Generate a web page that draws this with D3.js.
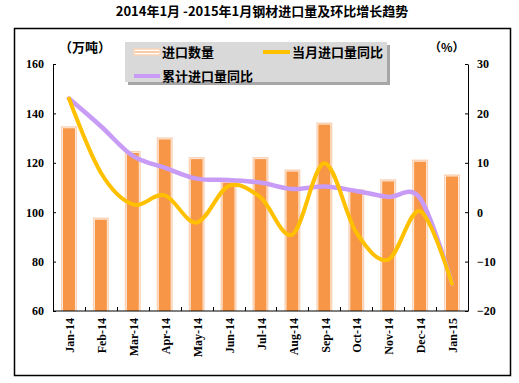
<!DOCTYPE html>
<html>
<head>
<meta charset="utf-8">
<script src="https://cdn.jsdelivr.net/npm/d3@7"></script>
<style>
  body { margin: 0; background: #fff; }
  svg { display: block; }
</style>
</head>
<body>
<script>
// 2014.1 - 2015.1 steel imports
var months = ["Jan-14", "Feb-14", "Mar-14", "Apr-14", "May-14", "Jun-14", "Jul-14",
              "Aug-14", "Sep-14", "Oct-14", "Nov-14", "Dec-14", "Jan-15"];
var importVol = [134, 97, 124, 129.5, 121.5, 112, 121.5, 116.5, 135.5, 108.5, 112.5, 120.5, 114.5];
var monthYoy = [23, 8, 1.6, 3.4, -2.1, 5.3, 3, -4.5, 9.9, -4.1, -9.6, 0.2, -14.5];
var cumYoy = [23, 17.4, 11.4, 9, 6.8, 6.5, 6, 4.7, 5.2, 4.3, 3.1, 2.8, -14.5];
var leftTicks = [60, 80, 100, 120, 140, 160];
var rightTicks = [-20, -10, 0, 10, 20, 30];

var width = 519, height = 383;
var cjk = "'Noto Sans CJK SC', sans-serif";
var serif = "'Liberation Serif', 'DejaVu Serif', serif";

var svg = d3.select("body").append("svg")
    .attr("width", width)
    .attr("height", height);

// title
svg.append("text")
    .attr("x", 262).attr("y", 16)
    .attr("text-anchor", "middle")
    .attr("font-family", cjk).attr("font-weight", "bold").attr("font-size", 13)
    .text("2014年1月 -2015年1月钢材进口量及环比增长趋势");

// frame
svg.append("rect")
    .attr("x", 14.5).attr("y", 28.5).attr("width", 496).attr("height", 347)
    .attr("fill", "none").attr("stroke", "#000").attr("stroke-width", 1.5);

var x = d3.scaleBand().domain(months).range([53, 468]);
var yL = d3.scaleLinear().domain([60, 160]).range([311, 64]);
var yR = d3.scaleLinear().domain([-20, 30]).range([311, 64]);

// bars
var bars = svg.append("g").selectAll("g").data(months).enter().append("g");
bars.append("rect")
    .attr("x", function (d) { return x(d) + x.bandwidth() / 2 - 8; })
    .attr("y", function (d, i) { return yL(importVol[i]) - 2; })
    .attr("width", 16)
    .attr("height", function (d, i) { return 311 - yL(importVol[i]) + 2; })
    .attr("fill", "#fad3b6");
bars.append("rect")
    .attr("x", function (d) { return x(d) + x.bandwidth() / 2 - 6.5; })
    .attr("y", function (d, i) { return yL(importVol[i]) - 0.5; })
    .attr("width", 13)
    .attr("height", function (d, i) { return 311 - yL(importVol[i]) + 0.5; })
    .attr("fill", "#fff");
bars.append("rect")
    .attr("x", function (d) { return x(d) + x.bandwidth() / 2 - 6; })
    .attr("y", function (d, i) { return yL(importVol[i]); })
    .attr("width", 12)
    .attr("height", function (d, i) { return 311 - yL(importVol[i]); })
    .attr("fill", "#f79646");

// lines
var line = d3.line()
    .x(function (d, i) { return x(months[i]) + x.bandwidth() / 2; })
    .y(function (d) { return yR(d); })
    .curve(d3.curveCardinal.tension(0));

svg.append("path").datum(cumYoy)
    .attr("d", line)
    .attr("fill", "none").attr("stroke", "#c79bf6").attr("stroke-width", 4.5)
    .attr("stroke-linecap", "round");
svg.append("path").datum(monthYoy)
    .attr("d", line)
    .attr("fill", "none").attr("stroke", "#ffc000").attr("stroke-width", 4)
    .attr("stroke-linecap", "round");

// axes
var gL = svg.append("g").attr("transform", "translate(53,0)")
    .call(d3.axisLeft(yL).tickValues(leftTicks).tickSizeInner(-3).tickSizeOuter(0).tickPadding(9));
var gR = svg.append("g").attr("transform", "translate(468,0)")
    .call(d3.axisRight(yR).tickValues(rightTicks).tickSizeInner(-3).tickSizeOuter(0).tickPadding(9));
[gL, gR].forEach(function (g) {
    g.selectAll("text")
        .attr("font-family", serif).attr("font-weight", "bold").attr("font-size", 12)
        .attr("fill", "#000");
    g.select(".domain").attr("stroke", "#000");
});

var gX = svg.append("g").attr("transform", "translate(0,311)");
gX.append("line").attr("x1", 53).attr("x2", 468).attr("stroke", "#000");
gX.selectAll(".tk").data(months.slice(1)).enter().append("line")
    .attr("x1", function (d) { return Math.round(x(d)) + 0.5; })
    .attr("x2", function (d) { return Math.round(x(d)) + 0.5; })
    .attr("y1", -4).attr("y2", 0)
    .attr("stroke", "#000");
gX.selectAll(".lb").data(months).enter().append("text")
    .attr("transform", function (d) {
        return "translate(" + (x(d) + x.bandwidth() / 2 + 1) + ",7)rotate(-90)";
    })
    .attr("text-anchor", "end")
    .attr("dy", "0.35em")
    .attr("font-family", serif).attr("font-weight", "bold").attr("font-size", 12)
    .text(function (d) { return d; });

// unit labels
svg.append("text").attr("x", 59).attr("y", 52)
    .attr("font-family", cjk).attr("font-weight", "bold").attr("font-size", 13)
    .text("（万吨）");
svg.append("text").attr("x", 429).attr("y", 52)
    .attr("font-family", cjk).attr("font-weight", "bold").attr("font-size", 12)
    .text("（%）");

// legend
var lg = svg.append("g");
lg.append("rect").attr("x", 128).attr("y", 45).attr("width", 262).attr("height", 40)
    .attr("fill", "#a6a6a6");
lg.append("rect").attr("x", 125).attr("y", 42).attr("width", 262).attr("height", 40)
    .attr("fill", "#d9d9d9");

lg.append("rect").attr("x", 134).attr("y", 49).attr("width", 26).attr("height", 6)
    .attr("fill", "#fff").attr("stroke", "#fad3b6").attr("stroke-width", 1.5);
lg.append("line").attr("x1", 135).attr("x2", 159).attr("y1", 52).attr("y2", 52)
    .attr("stroke", "#f79646").attr("stroke-width", 1);
lg.append("line").attr("x1", 263).attr("x2", 290).attr("y1", 52).attr("y2", 52)
    .attr("stroke", "#ffc000").attr("stroke-width", 4);
lg.append("line").attr("x1", 134).attr("x2", 160).attr("y1", 76).attr("y2", 76)
    .attr("stroke", "#c79bf6").attr("stroke-width", 4);

var legendText = [["进口数量", 162, 57], ["当月进口量同比", 292, 57], ["累计进口量同比", 162, 81]];
lg.selectAll(".lt").data(legendText).enter().append("text")
    .attr("x", function (d) { return d[1]; })
    .attr("y", function (d) { return d[2]; })
    .attr("font-family", cjk).attr("font-weight", "bold").attr("font-size", 13)
    .text(function (d) { return d[0]; });
</script>
</body>
</html>
